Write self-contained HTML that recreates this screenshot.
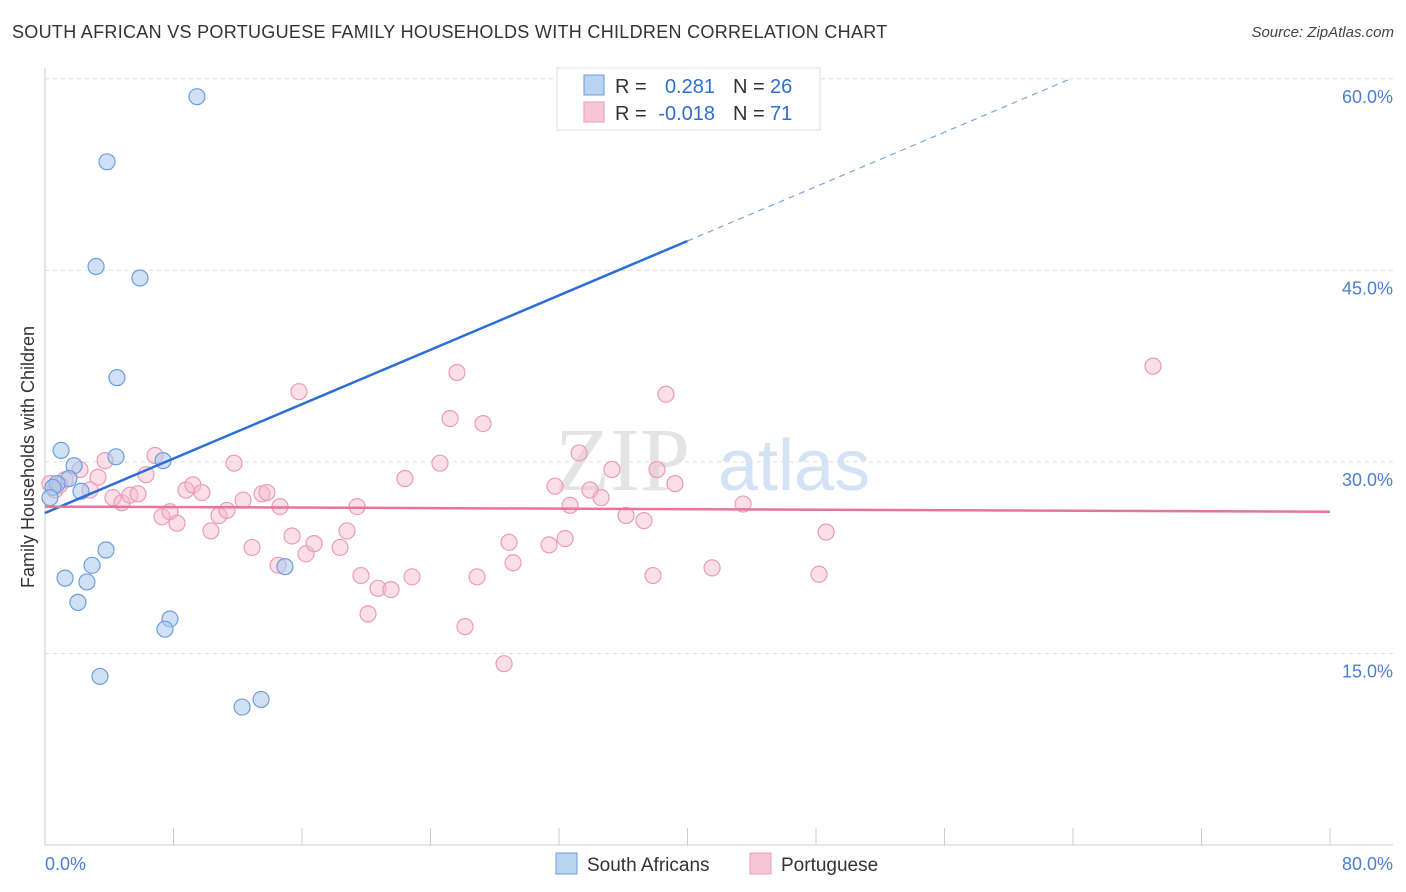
<!DOCTYPE html>
<html><head><meta charset="utf-8">
<style>
body{margin:0;background:#fff;font-family:"Liberation Sans",sans-serif;}
#wrap{position:relative;width:1406px;height:892px;overflow:hidden;}
.title{position:absolute;left:12px;top:22px;font-size:18px;color:#333;letter-spacing:0.3px;}
.source{position:absolute;right:12px;top:24px;font-size:15px;color:#444;font-style:italic;}
</style></head>
<body>
<div id="wrap">
<div class="title">SOUTH AFRICAN VS PORTUGUESE FAMILY HOUSEHOLDS WITH CHILDREN CORRELATION CHART</div>
<div class="source">Source: ZipAtlas.com</div>
<svg id="svg" width="1406" height="892" style="position:absolute;left:0;top:0"></svg>
</div>
<script>
const yTicks=[15,30,45,60];
const yTickLabels=["15.0%","30.0%","45.0%","60.0%"];
const xTickLabels=["0.0%","80.0%"];
const blueX=[9.46,3.86,3.18,5.91,4.48,1.0,4.42,7.35,1.81,1.49,0.75,0.5,2.24,0.31,3.8,2.93,1.25,2.61,2.05,7.78,7.47,3.42,14.94,12.27,13.45,33.6];
const blueY=[58.6,53.5,45.3,44.4,36.6,30.9,30.4,30.1,29.7,28.7,28.3,28.0,27.7,27.2,23.1,21.9,20.9,20.6,19.0,17.7,16.9,13.2,21.8,10.8,11.4,58.3];
const pinkX=[0.31,0.62,0.93,1.25,2.18,2.8,3.3,3.74,4.23,4.79,5.29,5.79,6.29,6.85,7.28,7.78,8.22,8.78,9.21,9.77,10.33,10.83,11.33,11.77,12.33,12.89,13.51,13.82,14.63,14.51,15.38,15.81,16.25,16.75,18.37,18.8,19.43,19.67,20.11,20.73,21.54,22.41,22.85,24.59,25.22,25.65,26.15,26.9,27.27,28.58,28.89,29.14,31.38,31.75,32.38,32.69,33.25,33.93,34.62,35.3,36.17,37.29,37.85,38.1,38.66,39.22,41.53,43.46,48.19,48.63,68.98];
const pinkY=[28.3,27.8,28.2,28.6,29.4,27.8,28.8,30.1,27.2,26.8,27.4,27.5,29.0,30.5,25.7,26.1,25.2,27.8,28.2,27.6,24.6,25.8,26.2,29.9,27.0,23.3,27.5,27.6,26.5,21.9,24.2,35.5,22.8,23.6,23.3,24.6,26.5,21.1,18.1,20.1,20.0,28.7,21.0,29.9,33.4,37.0,17.1,21.0,33.0,14.2,23.7,22.1,23.5,28.1,24.0,26.6,30.7,27.8,27.2,29.4,25.8,25.4,21.1,29.4,35.3,28.3,21.7,26.7,21.2,24.5,37.5];
const blueTrend=[26.0,47.3]; // values at x=0 and x=40
const pinkTrend=[26.5,26.1]; // values at x=0 and x=80
const statR=["0.281","-0.018"];
const statN=["26","71"];

const X=v=>45+v/80*1285;
const Y=v=>845-v*12.77;
const svg=document.getElementById('svg');
const NS='http://www.w3.org/2000/svg';
function mk(t,a){const e=document.createElementNS(NS,t);for(const k in a)e.setAttribute(k,a[k]);svg.appendChild(e);return e;}

yTicks.forEach((t,i)=>{
  const g=mk('line',{x1:45,x2:1393,y1:Y(t),y2:Y(t),stroke:'#ddd','stroke-dasharray':'4,4'});
  
  
  const l=mk('text',{x:1393,y:Y(t)+24,'text-anchor':'end','font-size':18,fill:'#4a7fd4','font-family':'Liberation Sans'});
  l.textContent=yTickLabels[i];
  
  
});
let a=mk('line',{x1:45,x2:45,y1:68,y2:845,stroke:'#ccc'});


a=mk('line',{x1:45,x2:1393,y1:845,y2:845,stroke:'#ccc'});


for(let i=0;i<=10;i++){
  const tk=mk('line',{x1:X(i*8),x2:X(i*8),y1:828,y2:845,stroke:'#ccc'});
  
  
}
[[0,'start',45],[80,'end',1393]].forEach((d,i)=>{
  const t=mk('text',{x:d[2],y:870,'text-anchor':d[1],'font-size':18,fill:'#4a7fd4','font-family':'Liberation Sans'});
  t.textContent=xTickLabels[i];
  
  
});
let yt=mk('text',{x:34,y:457,'text-anchor':'middle','font-size':18,fill:'#333','font-family':'Liberation Sans',transform:'rotate(-90 34 457)'});
yt.textContent='Family Households with Children';


let wm=mk('text',{x:555,y:490,'font-size':90,fill:'#e4e4e4','font-family':'Liberation Serif'});
wm.textContent='ZIP';


wm=mk('text',{x:718,y:490,'font-size':72,fill:'#d3e2f4','font-family':'Liberation Sans'});
wm.textContent='atlas';



pinkX.forEach((x,i)=>{
  const c=mk('circle',{cx:X(x),cy:Y(pinkY[i]),r:8,fill:'rgba(245,184,204,0.45)',stroke:'#ec9bb6','stroke-width':1.2});
  
  
});
blueX.forEach((x,i)=>{
  const c=mk('circle',{cx:X(x),cy:Y(blueY[i]),r:8,fill:'rgba(169,200,238,0.55)',stroke:'#6e9ddc','stroke-width':1.2});
  
  
});
const slope=(blueTrend[1]-blueTrend[0])/40;
let ln=mk('line',{x1:X(0),y1:Y(blueTrend[0]),x2:X(40),y2:Y(blueTrend[1]),stroke:'#2b6fd6','stroke-width':2.5});


const xEnd=(60-blueTrend[0])/slope;
ln=mk('line',{x1:X(40),y1:Y(blueTrend[1]),x2:X(xEnd),y2:Y(60),stroke:'#7aa6e0','stroke-width':1.2,'stroke-dasharray':'6,5'});


ln=mk('line',{x1:X(0),y1:Y(pinkTrend[0]),x2:X(80),y2:Y(pinkTrend[1]),stroke:'#e8739c','stroke-width':2.5});



let box=mk('rect',{x:557,y:68,width:263,height:62,fill:'#fff',stroke:'#ddd'});


[[0,'rgba(169,200,238,0.8)','#6e9ddc'],[1,'rgba(245,184,204,0.8)','#ec9bb6']].forEach(d=>{
  const yy=75+d[0]*27;
  const s=mk('rect',{x:584,y:yy,width:20,height:20,fill:d[1],stroke:d[2]});
  
  
  const parts=[[615,'start','#333','R ='],[715,'end','#2b6fd6',statR[d[0]]],[733,'start','#333','N ='],[770,'start','#2b6fd6',statN[d[0]]]];
  parts.forEach(p=>{
    const t=mk('text',{x:p[0],y:yy+18,'text-anchor':p[1],'font-size':20,fill:p[2],'font-family':'Liberation Sans'});
    t.textContent=p[3];
    
    
  });
});
[[556,'rgba(169,200,238,0.8)','#6e9ddc','South Africans'],[750,'rgba(245,184,204,0.8)','#ec9bb6','Portuguese']].forEach(d=>{
  const s=mk('rect',{x:d[0],y:853,width:21,height:21,fill:d[1],stroke:d[2]});
  
  
  const t=mk('text',{x:d[0]+31,y:871,'font-size':19,fill:'#333','font-family':'Liberation Sans'});
  t.textContent=d[3];
  
  
});
</script>
</body></html>
